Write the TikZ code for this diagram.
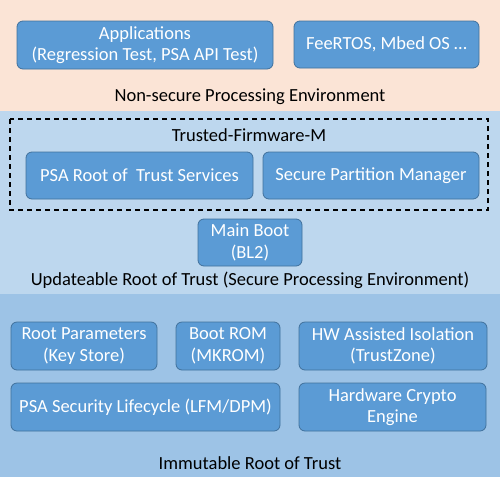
\documentclass[tikz,border=0pt]{standalone}
\usepackage{fontspec}
\setmainfont{Carlito}
\definecolor{peach}{RGB}{251,228,214}
\definecolor{lblue}{RGB}{189,215,238}
\definecolor{mblue}{RGB}{157,195,230}
\definecolor{boxfill}{RGB}{91,155,213}
\definecolor{boxline}{RGB}{65,113,156}
\begin{document}
\begin{tikzpicture}[x=1pt,y=-1pt,
  blk/.style={draw=boxline, fill=boxfill, line width=0.8pt, rounded corners=6pt,
    text=white, align=center, font=\fontsize{18.5}{21.5}\selectfont, inner sep=0pt},
  lbl/.style={font=\fontsize{18.5}{21.5}\selectfont, text=black, inner sep=0pt}]
\useasboundingbox (0,0) rectangle (500,485);
\fill[peach] (0,0) rectangle (500,111);
\fill[lblue] (0,111) rectangle (500,294);
\fill[mblue] (0,294) rectangle (500,477);
% Non-secure
\node[blk, minimum width=256pt, minimum height=48pt] (apps) at (145,45) {Applications\\(Regression Test, PSA API Test)};
\node[blk, minimum width=185pt, minimum height=47pt] (rtos) at (386.5,44.5) {FeeRTOS, Mbed OS \dots};
\node[lbl] (nspe) at (250,97) {Non-secure Processing Environment};
% TF-M
\draw[dashed, line width=1.6pt, dash pattern=on 5pt off 4pt] (10,119) rectangle (488,210);
\node[lbl] (tfm) at (249,135) {Trusted-Firmware-M};
\node[blk, minimum width=227pt, minimum height=47pt] (psarot) at (139.5,175.5) {PSA Root of\ \ Trust Services};
\node[blk, minimum width=216pt, minimum height=47pt] (spm) at (371,175.5) {Secure Partition Manager};
\node[blk, minimum width=104pt, minimum height=47pt] (bl2) at (250,242.5) {Main Boot\\(BL2)};
\node[lbl] (urot) at (250,280) {Updateable Root of Trust (Secure Processing Environment)};
% Immutable
\node[blk, minimum width=146pt, minimum height=48pt] (rp) at (84,346) {Root Parameters\\(Key Store)};
\node[blk, minimum width=104pt, minimum height=48pt] (rom) at (228,346) {Boot ROM\\(MKROM)};
\node[blk, minimum width=188pt, minimum height=48pt] (hw) at (393,346) {HW Assisted Isolation\\(TrustZone)};
\node[blk, minimum width=269pt, minimum height=48pt] (lc) at (145.5,407) {PSA Security Lifecycle (LFM/DPM)};
\node[blk, minimum width=187pt, minimum height=48pt] (cry) at (392.5,407) {Hardware Crypto\\Engine};
\node[lbl] (irot) at (250,463) {Immutable Root of Trust};
\end{tikzpicture}
\end{document}
